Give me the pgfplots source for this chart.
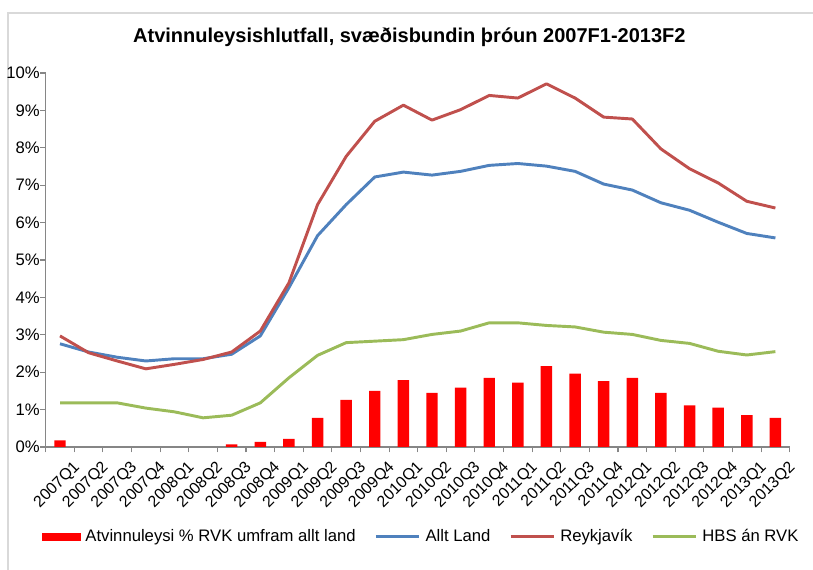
\documentclass[border=0pt]{standalone}
\usepackage{fontspec}
\setmainfont{Liberation Sans}
\usepackage{pgfplots}
\pgfplotsset{compat=1.18}
\definecolor{barred}{HTML}{FF0000}
\definecolor{landblue}{HTML}{4F81BD}
\definecolor{rvkred}{HTML}{C0504D}
\definecolor{hbsgreen}{HTML}{9BBB59}
\definecolor{axisgray}{HTML}{868686}

% values in percent, 2007Q1 .. 2013Q2 (nan = no bar)
\pgfplotstableread{
i  diff  land  rvk   hbs
0  0.18  2.76  2.97  1.18
1  nan   2.54  2.52  1.18
2  nan   2.40  2.30  1.18
3  nan   2.30  2.09  1.04
4  nan   2.36  2.21  0.94
5  nan   2.36  2.34  0.78
6  0.07  2.48  2.54  0.85
7  0.14  2.97  3.10  1.18
8  0.22  4.26  4.39  1.85
9  0.78  5.65  6.48  2.45
10 1.26  6.48  7.77  2.79
11 1.50  7.22  8.71  2.83
12 1.79  7.35  9.14  2.87
13 1.45  7.27  8.74  3.01
14 1.59  7.37  9.02  3.10
15 1.85  7.53  9.40  3.32
16 1.72  7.58  9.33  3.32
17 2.16  7.51  9.71  3.25
18 1.96  7.37  9.33  3.21
19 1.76  7.03  8.82  3.07
20 1.85  6.87  8.77  3.01
21 1.45  6.53  7.97  2.85
22 1.11  6.33  7.44  2.77
23 1.05  6.01  7.06  2.56
24 0.85  5.71  6.57  2.46
25 0.78  5.59  6.39  2.55
}\datatable

\begin{document}
\begin{tikzpicture}
\path[use as bounding box] (-45pt,-92.25pt) rectangle (564.75pt,335.25pt);
\draw[black!15, line width=1pt] (-39pt,-110pt) rectangle (580pt,325.5pt);
\node[font=\bfseries\fontsize{15}{18}\selectfont] at (262pt,307.5pt)
  {Atvinnuleysishlutfall,\ svæðisbundin\ þróun 2007F1-2013F2};
\begin{axis}[
  at={(0pt,0pt)}, anchor=origin,
  scale only axis,
  width=558pt, height=280.5pt,
  xmin=-0.5, xmax=25.5,
  ymin=0, ymax=10,
  axis lines*=left,
  axis line style={axisgray, line width=0.8pt},
  tick align=outside,
  ytick={0,1,...,10},
  yticklabels={0\%,1\%,2\%,3\%,4\%,5\%,6\%,7\%,8\%,9\%,10\%},
  ytick style={axisgray, line width=0.8pt},
  major tick length=4pt,
  xtick={0,1,...,25},
  xticklabels={2007Q1,2007Q2,2007Q3,2007Q4,2008Q1,2008Q2,2008Q3,2008Q4,2009Q1,2009Q2,2009Q3,2009Q4,2010Q1,2010Q2,2010Q3,2010Q4,2011Q1,2011Q2,2011Q3,2011Q4,2012Q1,2012Q2,2012Q3,2012Q4,2013Q1,2013Q2},
  major x tick style={draw=none},
  minor xtick={-0.5,0.5,...,25.5},
  minor x tick style={axisgray, line width=0.8pt},
  minor tick length=4pt,
  xticklabel style={rotate=45, anchor=north east, font=\fontsize{12}{14}\selectfont, xshift=6pt, yshift=-7pt},
  yticklabel style={font=\fontsize{12.5}{14}\selectfont, xshift=3pt},
  bar width=0.4,
  legend columns=4,
  legend style={draw=none, at={(0.505,-0.24)}, anchor=center,
    font=\fontsize{12.5}{15}\selectfont,
    /tikz/every odd column/.append style={column sep=1.5pt},
    /tikz/every even column/.append style={column sep=12pt}},
  legend cell align=left,
]
\addplot[ybar, fill=barred, draw=none,
  legend image code/.code={\fill[barred] (0cm,-0.1cm) rectangle (1.03cm,0.1cm);}]
  table[x=i, y=diff] {\datatable};
\addlegendentry{Atvinnuleysi \% RVK umfram allt land}
\addplot[landblue, line width=2.2pt, line join=round,
  legend image code/.code={\draw[landblue, line width=2.2pt] (0cm,0cm) -- (1.15cm,0cm);}]
  table[x=i, y=land] {\datatable};
\addlegendentry{Allt Land}
\addplot[rvkred, line width=2.2pt, line join=round,
  legend image code/.code={\draw[rvkred, line width=2.2pt] (0cm,0cm) -- (1.15cm,0cm);}]
  table[x=i, y=rvk] {\datatable};
\addlegendentry{Reykjavík}
\addplot[hbsgreen, line width=2.2pt, line join=round,
  legend image code/.code={\draw[hbsgreen, line width=2.2pt] (0cm,0cm) -- (1.15cm,0cm);}]
  table[x=i, y=hbs] {\datatable};
\addlegendentry{HBS án RVK}
\end{axis}
\end{tikzpicture}
\end{document}
